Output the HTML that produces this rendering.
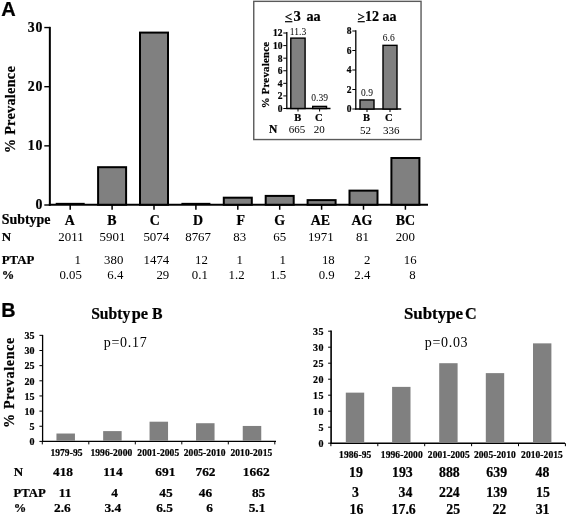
<!DOCTYPE html>
<html><head><meta charset="utf-8"><title>Figure</title>
<style>
html,body{margin:0;padding:0;background:#fff;}
svg{display:block;filter:blur(0.3px);}
text{fill:#000;}
.se{font-family:"Liberation Serif",serif;}
.sa{font-family:"Liberation Sans",sans-serif;}
.b{font-weight:bold;stroke:#000;stroke-width:0.22px;}
</style></head>
<body>
<svg width="567" height="515" viewBox="0 0 567 515">
<rect width="567" height="515" fill="#fff"/>
<text class="sa b" x="1.2" y="15.6" font-size="20" text-anchor="start">A</text>
<text class="sa b" x="1.2" y="316.5" font-size="19.8" text-anchor="start">B</text>
<line x1="49.85" y1="26.85" x2="49.85" y2="205.75" stroke="#000" stroke-width="2"/>
<line x1="48.85" y1="204.75" x2="428" y2="204.75" stroke="#000" stroke-width="2"/>
<line x1="44.3" y1="205.0" x2="49.85" y2="205.0" stroke="#000" stroke-width="1.4"/>
<text class="se b" x="43.4" y="209.2" font-size="13.8" text-anchor="end" letter-spacing="0.9">0</text>
<line x1="44.3" y1="145.85" x2="49.85" y2="145.85" stroke="#000" stroke-width="1.4"/>
<text class="se b" x="43.4" y="150.04999999999998" font-size="13.8" text-anchor="end" letter-spacing="0.9">10</text>
<line x1="44.3" y1="86.7" x2="49.85" y2="86.7" stroke="#000" stroke-width="1.4"/>
<text class="se b" x="43.4" y="90.9" font-size="13.8" text-anchor="end" letter-spacing="0.9">20</text>
<line x1="44.3" y1="27.55000000000001" x2="49.85" y2="27.55000000000001" stroke="#000" stroke-width="1.4"/>
<text class="se b" x="43.4" y="31.75000000000001" font-size="13.8" text-anchor="end" letter-spacing="0.9">30</text>
<text transform="translate(15.3,109.6) rotate(-90)" font-size="14.3" text-anchor="middle" letter-spacing="0.25" class="se b">% Prevalence</text>
<line x1="55.7" y1="203.55" x2="84.7" y2="203.55" stroke="#000" stroke-width="1.4"/>
<line x1="70.2" y1="204.75" x2="70.2" y2="209.75" stroke="#000" stroke-width="1.5"/>
<rect x="98.10" y="167.20" width="28.00" height="37.55" fill="#808080" stroke="#000" stroke-width="2"/>
<line x1="112.1" y1="204.75" x2="112.1" y2="209.75" stroke="#000" stroke-width="1.5"/>
<rect x="140.00" y="32.59" width="28.00" height="172.16" fill="#808080" stroke="#000" stroke-width="2"/>
<line x1="154.0" y1="204.75" x2="154.0" y2="209.75" stroke="#000" stroke-width="1.5"/>
<line x1="181.39999999999998" y1="203.55" x2="210.39999999999998" y2="203.55" stroke="#000" stroke-width="1.4"/>
<line x1="195.89999999999998" y1="204.75" x2="195.89999999999998" y2="209.75" stroke="#000" stroke-width="1.5"/>
<rect x="223.80" y="197.69" width="28.00" height="7.06" fill="#808080" stroke="#000" stroke-width="2"/>
<line x1="237.8" y1="204.75" x2="237.8" y2="209.75" stroke="#000" stroke-width="1.5"/>
<rect x="265.70" y="195.91" width="28.00" height="8.84" fill="#808080" stroke="#000" stroke-width="2"/>
<line x1="279.7" y1="204.75" x2="279.7" y2="209.75" stroke="#000" stroke-width="1.5"/>
<rect x="307.60" y="200.12" width="28.00" height="4.63" fill="#808080" stroke="#000" stroke-width="2"/>
<line x1="321.59999999999997" y1="204.75" x2="321.59999999999997" y2="209.75" stroke="#000" stroke-width="1.5"/>
<rect x="349.50" y="190.63" width="28.00" height="14.12" fill="#808080" stroke="#000" stroke-width="2"/>
<line x1="363.5" y1="204.75" x2="363.5" y2="209.75" stroke="#000" stroke-width="1.5"/>
<rect x="391.40" y="158.01" width="28.00" height="46.74" fill="#808080" stroke="#000" stroke-width="2"/>
<line x1="405.4" y1="204.75" x2="405.4" y2="209.75" stroke="#000" stroke-width="1.5"/>
<text class="se b" x="69.8" y="225.4" font-size="13.9" text-anchor="middle">A</text>
<text class="se b" x="112" y="225.4" font-size="13.9" text-anchor="middle">B</text>
<text class="se b" x="154.7" y="225.4" font-size="13.9" text-anchor="middle">C</text>
<text class="se b" x="198.1" y="225.4" font-size="13.9" text-anchor="middle">D</text>
<text class="se b" x="240.7" y="225.4" font-size="13.9" text-anchor="middle">F</text>
<text class="se b" x="279.6" y="225.4" font-size="13.9" text-anchor="middle">G</text>
<text class="se b" x="320.4" y="225.4" font-size="13.9" text-anchor="middle">AE</text>
<text class="se b" x="361.8" y="225.4" font-size="13.9" text-anchor="middle">AG</text>
<text class="se b" x="405.5" y="225.4" font-size="13.9" text-anchor="middle">BC</text>
<text class="se b" x="1.8" y="223.7" font-size="13.9" text-anchor="start">Subtype</text>
<text class="se b" x="1.8" y="241.4" font-size="13" text-anchor="start">N</text>
<text class="se b" x="1.8" y="263.6" font-size="12.8" text-anchor="start">PTAP</text>
<text class="se b" x="1.8" y="279.0" font-size="12.5" text-anchor="start">%</text>
<text class="se" x="83.6" y="241.2" font-size="12.9" text-anchor="end">2011</text>
<text class="se" x="125.4" y="241.2" font-size="12.9" text-anchor="end">5901</text>
<text class="se" x="169.2" y="241.2" font-size="12.9" text-anchor="end">5074</text>
<text class="se" x="211" y="241.2" font-size="12.9" text-anchor="end">8767</text>
<text class="se" x="246.2" y="241.2" font-size="12.9" text-anchor="end">83</text>
<text class="se" x="286.1" y="241.2" font-size="12.9" text-anchor="end">65</text>
<text class="se" x="333.7" y="241.2" font-size="12.9" text-anchor="end">1971</text>
<text class="se" x="369" y="241.2" font-size="12.9" text-anchor="end">81</text>
<text class="se" x="415" y="241.2" font-size="12.9" text-anchor="end">200</text>
<text class="se" x="80.8" y="263.6" font-size="12.8" text-anchor="end">1</text>
<text class="se" x="123.3" y="263.6" font-size="12.8" text-anchor="end">380</text>
<text class="se" x="169.2" y="263.6" font-size="12.8" text-anchor="end">1474</text>
<text class="se" x="207.8" y="263.6" font-size="12.8" text-anchor="end">12</text>
<text class="se" x="243" y="263.6" font-size="12.8" text-anchor="end">1</text>
<text class="se" x="285.8" y="263.6" font-size="12.8" text-anchor="end">1</text>
<text class="se" x="334.7" y="263.6" font-size="12.8" text-anchor="end">18</text>
<text class="se" x="370.3" y="263.6" font-size="12.8" text-anchor="end">2</text>
<text class="se" x="416.6" y="263.6" font-size="12.8" text-anchor="end">16</text>
<text class="se" x="81.8" y="279.0" font-size="12.8" text-anchor="end">0.05</text>
<text class="se" x="123.3" y="279.0" font-size="12.8" text-anchor="end">6.4</text>
<text class="se" x="169.2" y="279.0" font-size="12.8" text-anchor="end">29</text>
<text class="se" x="207.8" y="279.0" font-size="12.8" text-anchor="end">0.1</text>
<text class="se" x="244.6" y="279.0" font-size="12.8" text-anchor="end">1.2</text>
<text class="se" x="286.1" y="279.0" font-size="12.8" text-anchor="end">1.5</text>
<text class="se" x="334.7" y="279.0" font-size="12.8" text-anchor="end">0.9</text>
<text class="se" x="370.3" y="279.0" font-size="12.8" text-anchor="end">2.4</text>
<text class="se" x="415.6" y="279.0" font-size="12.8" text-anchor="end">8</text>
<rect x="253.75" y="1.35" width="167.3" height="138.2" fill="#fff" stroke="#5a5a5a" stroke-width="1.4"/>
<text class="se b" x="284.8" y="21.2" font-size="13" text-anchor="start">&lt;</text>
<line x1="285" y1="21.7" x2="292.4" y2="21.7" stroke="#000" stroke-width="1.2"/>
<text class="se b" x="293.6" y="20.6" font-size="14.6" text-anchor="start">3</text>
<text class="se b" x="306.5" y="20.6" font-size="14.2" text-anchor="start">aa</text>
<text class="se b" x="357.6" y="21.2" font-size="13" text-anchor="start">&gt;</text>
<line x1="357.7" y1="21.7" x2="364.8" y2="21.7" stroke="#000" stroke-width="1.2"/>
<text class="se b" x="365.1" y="20.6" font-size="14" text-anchor="start">12 aa</text>
<line x1="286.8" y1="32" x2="286.8" y2="109.1" stroke="#000" stroke-width="1.3"/>
<line x1="286.2" y1="108.5" x2="330.5" y2="108.5" stroke="#000" stroke-width="1.3"/>
<line x1="283.3" y1="108.5" x2="286.8" y2="108.5" stroke="#000" stroke-width="1"/>
<text class="se b" x="282.5" y="111.9" font-size="9.5" text-anchor="end">0</text>
<line x1="283.3" y1="95.92" x2="286.8" y2="95.92" stroke="#000" stroke-width="1"/>
<text class="se b" x="282.5" y="99.32000000000001" font-size="9.5" text-anchor="end">2</text>
<line x1="283.3" y1="83.34" x2="286.8" y2="83.34" stroke="#000" stroke-width="1"/>
<text class="se b" x="282.5" y="86.74000000000001" font-size="9.5" text-anchor="end">4</text>
<line x1="283.3" y1="70.75999999999999" x2="286.8" y2="70.75999999999999" stroke="#000" stroke-width="1"/>
<text class="se b" x="282.5" y="74.16" font-size="9.5" text-anchor="end">6</text>
<line x1="283.3" y1="58.18" x2="286.8" y2="58.18" stroke="#000" stroke-width="1"/>
<text class="se b" x="282.5" y="61.58" font-size="9.5" text-anchor="end">8</text>
<line x1="283.3" y1="45.6" x2="286.8" y2="45.6" stroke="#000" stroke-width="1"/>
<text class="se b" x="282.5" y="49.0" font-size="9.5" text-anchor="end">10</text>
<line x1="283.3" y1="33.019999999999996" x2="286.8" y2="33.019999999999996" stroke="#000" stroke-width="1"/>
<text class="se b" x="282.5" y="36.419999999999995" font-size="9.5" text-anchor="end">12</text>
<rect x="290.80" y="38.12" width="14.30" height="70.38" fill="#808080" stroke="#000" stroke-width="1.4"/>
<rect x="312.70" y="106.40" width="13.80" height="2.10" fill="#808080" stroke="#000" stroke-width="1.4"/>
<line x1="298" y1="108.5" x2="298" y2="111.5" stroke="#000" stroke-width="1"/>
<line x1="319.6" y1="108.5" x2="319.6" y2="111.5" stroke="#000" stroke-width="1"/>
<text class="se" x="298" y="35.2" font-size="9.5" text-anchor="middle">11.3</text>
<text class="se" x="319.6" y="100.7" font-size="9.5" text-anchor="middle">0.39</text>
<text class="se b" x="297.8" y="120.7" font-size="10.5" text-anchor="middle">B</text>
<text class="se b" x="318.8" y="120.7" font-size="10.5" text-anchor="middle">C</text>
<text class="se b" x="269" y="133.3" font-size="11.5" text-anchor="start">N</text>
<text class="se" x="296.9" y="133.3" font-size="11" text-anchor="middle">665</text>
<text class="se" x="319.3" y="133.3" font-size="11" text-anchor="middle">20</text>
<text transform="translate(269.0,75) rotate(-90)" font-size="10.8" letter-spacing="0.25" text-anchor="middle" class="se b">% Prevalence</text>
<line x1="355.8" y1="30.2" x2="355.8" y2="109.6" stroke="#000" stroke-width="1.3"/>
<line x1="355.2" y1="109.0" x2="401.2" y2="109.0" stroke="#000" stroke-width="1.3"/>
<line x1="352.3" y1="109.0" x2="355.8" y2="109.0" stroke="#000" stroke-width="1"/>
<text class="se b" x="351.5" y="112.2" font-size="9.5" text-anchor="end">0</text>
<line x1="352.3" y1="89.5" x2="355.8" y2="89.5" stroke="#000" stroke-width="1"/>
<text class="se b" x="351.5" y="92.7" font-size="9.5" text-anchor="end">2</text>
<line x1="352.3" y1="70.0" x2="355.8" y2="70.0" stroke="#000" stroke-width="1"/>
<text class="se b" x="351.5" y="73.2" font-size="9.5" text-anchor="end">4</text>
<line x1="352.3" y1="50.5" x2="355.8" y2="50.5" stroke="#000" stroke-width="1"/>
<text class="se b" x="351.5" y="53.7" font-size="9.5" text-anchor="end">6</text>
<line x1="352.3" y1="31.0" x2="355.8" y2="31.0" stroke="#000" stroke-width="1"/>
<text class="se b" x="351.5" y="34.2" font-size="9.5" text-anchor="end">8</text>
<rect x="360.00" y="99.95" width="14.00" height="9.05" fill="#808080" stroke="#000" stroke-width="1.4"/>
<rect x="383.00" y="45.35" width="14.00" height="63.65" fill="#808080" stroke="#000" stroke-width="1.4"/>
<line x1="367" y1="109.0" x2="367" y2="112.0" stroke="#000" stroke-width="1"/>
<line x1="390" y1="109.0" x2="390" y2="112.0" stroke="#000" stroke-width="1"/>
<text class="se" x="367" y="95.9" font-size="9.5" text-anchor="middle">0.9</text>
<text class="se" x="388.7" y="40.6" font-size="9.5" text-anchor="middle">6.6</text>
<text class="se b" x="366.4" y="121.4" font-size="10.5" text-anchor="middle">B</text>
<text class="se b" x="388.8" y="121.4" font-size="10.5" text-anchor="middle">C</text>
<text class="se" x="365.5" y="133.8" font-size="11" text-anchor="middle">52</text>
<text class="se" x="391.2" y="133.8" font-size="11" text-anchor="middle">336</text>
<line x1="42.6" y1="334.9" x2="42.6" y2="442.0" stroke="#000" stroke-width="1.3"/>
<line x1="42.0" y1="441.4" x2="276" y2="441.4" stroke="#000" stroke-width="1.3"/>
<line x1="39.4" y1="441.4" x2="42.6" y2="441.4" stroke="#000" stroke-width="1"/>
<text class="se b" x="34.7" y="445.2" font-size="10" text-anchor="end" letter-spacing="0.15">0</text>
<line x1="39.4" y1="426.25" x2="42.6" y2="426.25" stroke="#000" stroke-width="1"/>
<text class="se b" x="34.7" y="430.05" font-size="10" text-anchor="end" letter-spacing="0.15">5</text>
<line x1="39.4" y1="411.09999999999997" x2="42.6" y2="411.09999999999997" stroke="#000" stroke-width="1"/>
<text class="se b" x="34.7" y="414.9" font-size="10" text-anchor="end" letter-spacing="0.15">10</text>
<line x1="39.4" y1="395.95" x2="42.6" y2="395.95" stroke="#000" stroke-width="1"/>
<text class="se b" x="34.7" y="399.75" font-size="10" text-anchor="end" letter-spacing="0.15">15</text>
<line x1="39.4" y1="380.79999999999995" x2="42.6" y2="380.79999999999995" stroke="#000" stroke-width="1"/>
<text class="se b" x="34.7" y="384.59999999999997" font-size="10" text-anchor="end" letter-spacing="0.15">20</text>
<line x1="39.4" y1="365.65" x2="42.6" y2="365.65" stroke="#000" stroke-width="1"/>
<text class="se b" x="34.7" y="369.45" font-size="10" text-anchor="end" letter-spacing="0.15">25</text>
<line x1="39.4" y1="350.5" x2="42.6" y2="350.5" stroke="#000" stroke-width="1"/>
<text class="se b" x="34.7" y="354.3" font-size="10" text-anchor="end" letter-spacing="0.15">30</text>
<line x1="39.4" y1="335.34999999999997" x2="42.6" y2="335.34999999999997" stroke="#000" stroke-width="1"/>
<text class="se b" x="34.7" y="339.15" font-size="10" text-anchor="end" letter-spacing="0.15">35</text>
<text transform="translate(13.9,382.5) rotate(-90)" font-size="14" text-anchor="middle" letter-spacing="0.7" class="se b">% Prevalence</text>
<text class="se b" x="91.2" y="318.9" font-size="16" text-anchor="start" textLength="39.0" lengthAdjust="spacingAndGlyphs">Subty</text>
<text class="se b" x="131.8" y="318.9" font-size="16" text-anchor="start" textLength="16.3" lengthAdjust="spacingAndGlyphs">pe</text>
<text class="se b" x="152.1" y="318.9" font-size="15.8" text-anchor="start">B</text>
<text class="se" x="103.8" y="346.7" font-size="14" text-anchor="start" letter-spacing="0.7">p=0.17</text>
<rect x="56.45" y="433.52" width="18.50" height="7.28" fill="#808080"/>
<rect x="103.15" y="431.10" width="18.50" height="9.70" fill="#808080"/>
<rect x="149.55" y="421.70" width="18.50" height="19.09" fill="#808080"/>
<rect x="196.05" y="423.22" width="18.50" height="17.58" fill="#808080"/>
<rect x="242.75" y="425.95" width="18.50" height="14.85" fill="#808080"/>
<line x1="42.3" y1="441.4" x2="42.3" y2="444.4" stroke="#000" stroke-width="1"/>
<line x1="88.8" y1="441.4" x2="88.8" y2="444.4" stroke="#000" stroke-width="1"/>
<line x1="135.3" y1="441.4" x2="135.3" y2="444.4" stroke="#000" stroke-width="1"/>
<line x1="181.8" y1="441.4" x2="181.8" y2="444.4" stroke="#000" stroke-width="1"/>
<line x1="228.3" y1="441.4" x2="228.3" y2="444.4" stroke="#000" stroke-width="1"/>
<line x1="274.8" y1="441.4" x2="274.8" y2="444.4" stroke="#000" stroke-width="1"/>
<text class="se b" x="66.5" y="455.6" font-size="9.5" text-anchor="middle" letter-spacing="0.08">1979-95</text>
<text class="se b" x="111.4" y="455.6" font-size="9.5" text-anchor="middle" letter-spacing="0.08">1996-2000</text>
<text class="se b" x="158.3" y="455.6" font-size="9.5" text-anchor="middle" letter-spacing="0.08">2001-2005</text>
<text class="se b" x="204.7" y="455.6" font-size="9.5" text-anchor="middle" letter-spacing="0.08">2005-2010</text>
<text class="se b" x="251.4" y="455.6" font-size="9.5" text-anchor="middle" letter-spacing="0.08">2010-2015</text>
<text class="se b" x="13.8" y="475.6" font-size="13" text-anchor="start">N</text>
<text class="se b" x="13.6" y="496.5" font-size="12.7" text-anchor="start">PTAP</text>
<text class="se b" x="13.8" y="512" font-size="12.5" text-anchor="start">%</text>
<text class="se b" x="63" y="475.6" font-size="13.4" text-anchor="middle">418</text>
<text class="se b" x="113" y="475.6" font-size="13.4" text-anchor="middle">114</text>
<text class="se b" x="165.3" y="475.6" font-size="13.4" text-anchor="middle">691</text>
<text class="se b" x="205.5" y="475.6" font-size="13.4" text-anchor="middle">762</text>
<text class="se b" x="256.2" y="475.6" font-size="13.4" text-anchor="middle">1662</text>
<text class="se b" x="65.1" y="496.5" font-size="13.4" text-anchor="middle">11</text>
<text class="se b" x="114.6" y="496.5" font-size="13.4" text-anchor="middle">4</text>
<text class="se b" x="166" y="496.5" font-size="13.4" text-anchor="middle">45</text>
<text class="se b" x="205.4" y="496.5" font-size="13.4" text-anchor="middle">46</text>
<text class="se b" x="258.6" y="496.5" font-size="13.4" text-anchor="middle">85</text>
<text class="se b" x="62.4" y="512" font-size="13.4" text-anchor="middle">2.6</text>
<text class="se b" x="112.8" y="512" font-size="13.4" text-anchor="middle">3.4</text>
<text class="se b" x="164.5" y="512" font-size="13.4" text-anchor="middle">6.5</text>
<text class="se b" x="209.5" y="512" font-size="13.4" text-anchor="middle">6</text>
<text class="se b" x="257" y="512" font-size="13.4" text-anchor="middle">5.1</text>
<line x1="331.1" y1="330.6" x2="331.1" y2="443.8" stroke="#000" stroke-width="1.6"/>
<line x1="330.5" y1="443.2" x2="565" y2="443.2" stroke="#000" stroke-width="1.5"/>
<line x1="328.1" y1="443.2" x2="331.1" y2="443.2" stroke="#000" stroke-width="1"/>
<text class="se b" x="323.9" y="446.5" font-size="10" text-anchor="end" letter-spacing="0.4">0</text>
<line x1="328.1" y1="427.2" x2="331.1" y2="427.2" stroke="#000" stroke-width="1"/>
<text class="se b" x="323.9" y="430.5" font-size="10" text-anchor="end" letter-spacing="0.4">5</text>
<line x1="328.1" y1="411.2" x2="331.1" y2="411.2" stroke="#000" stroke-width="1"/>
<text class="se b" x="323.9" y="414.5" font-size="10" text-anchor="end" letter-spacing="0.4">10</text>
<line x1="328.1" y1="395.2" x2="331.1" y2="395.2" stroke="#000" stroke-width="1"/>
<text class="se b" x="323.9" y="398.5" font-size="10" text-anchor="end" letter-spacing="0.4">15</text>
<line x1="328.1" y1="379.2" x2="331.1" y2="379.2" stroke="#000" stroke-width="1"/>
<text class="se b" x="323.9" y="382.5" font-size="10" text-anchor="end" letter-spacing="0.4">20</text>
<line x1="328.1" y1="363.2" x2="331.1" y2="363.2" stroke="#000" stroke-width="1"/>
<text class="se b" x="323.9" y="366.5" font-size="10" text-anchor="end" letter-spacing="0.4">25</text>
<line x1="328.1" y1="347.2" x2="331.1" y2="347.2" stroke="#000" stroke-width="1"/>
<text class="se b" x="323.9" y="350.5" font-size="10" text-anchor="end" letter-spacing="0.4">30</text>
<line x1="328.1" y1="331.2" x2="331.1" y2="331.2" stroke="#000" stroke-width="1"/>
<text class="se b" x="323.9" y="334.5" font-size="10" text-anchor="end" letter-spacing="0.4">35</text>
<text class="se b" x="403.9" y="318.9" font-size="16" text-anchor="start" textLength="59.2" lengthAdjust="spacingAndGlyphs">Subtype</text>
<text class="se b" x="465.0" y="318.9" font-size="16.2" text-anchor="start">C</text>
<text class="se" x="424.7" y="346.7" font-size="14" text-anchor="start" letter-spacing="0.7">p=0.03</text>
<rect x="345.80" y="392.64" width="18.40" height="49.96" fill="#808080"/>
<rect x="392.10" y="386.88" width="18.40" height="55.72" fill="#808080"/>
<rect x="439.20" y="363.20" width="18.40" height="79.40" fill="#808080"/>
<rect x="485.80" y="373.12" width="18.40" height="69.48" fill="#808080"/>
<rect x="533.00" y="343.36" width="18.40" height="99.24" fill="#808080"/>
<line x1="330.9" y1="443.2" x2="330.9" y2="446.2" stroke="#000" stroke-width="1"/>
<line x1="377.79999999999995" y1="443.2" x2="377.79999999999995" y2="446.2" stroke="#000" stroke-width="1"/>
<line x1="424.7" y1="443.2" x2="424.7" y2="446.2" stroke="#000" stroke-width="1"/>
<line x1="471.59999999999997" y1="443.2" x2="471.59999999999997" y2="446.2" stroke="#000" stroke-width="1"/>
<line x1="518.5" y1="443.2" x2="518.5" y2="446.2" stroke="#000" stroke-width="1"/>
<line x1="565.4" y1="443.2" x2="565.4" y2="446.2" stroke="#000" stroke-width="1"/>
<text class="se b" x="355.2" y="458" font-size="9.5" text-anchor="middle" letter-spacing="0.08">1986-95</text>
<text class="se b" x="401.8" y="458" font-size="9.5" text-anchor="middle" letter-spacing="0.08">1996-2000</text>
<text class="se b" x="448.8" y="458" font-size="9.5" text-anchor="middle" letter-spacing="0.08">2001-2005</text>
<text class="se b" x="494.9" y="458" font-size="9.5" text-anchor="middle" letter-spacing="0.08">2005-2010</text>
<text class="se b" x="542" y="458" font-size="9.5" text-anchor="middle" letter-spacing="0.08">2010-2015</text>
<text class="se b" x="355.9" y="477" font-size="13.8" text-anchor="middle">19</text>
<text class="se b" x="402.4" y="477" font-size="13.8" text-anchor="middle">193</text>
<text class="se b" x="449.4" y="477" font-size="13.8" text-anchor="middle">888</text>
<text class="se b" x="496.7" y="477" font-size="13.8" text-anchor="middle">639</text>
<text class="se b" x="542.4" y="477" font-size="13.8" text-anchor="middle">48</text>
<text class="se b" x="355.5" y="497" font-size="13.8" text-anchor="middle">3</text>
<text class="se b" x="405.5" y="497" font-size="13.8" text-anchor="middle">34</text>
<text class="se b" x="449.4" y="497" font-size="13.8" text-anchor="middle">224</text>
<text class="se b" x="496.7" y="497" font-size="13.8" text-anchor="middle">139</text>
<text class="se b" x="543" y="497" font-size="13.8" text-anchor="middle">15</text>
<text class="se b" x="356.5" y="513.6" font-size="13.8" text-anchor="middle">16</text>
<text class="se b" x="403.7" y="513.6" font-size="13.8" text-anchor="middle">17.6</text>
<text class="se b" x="453.2" y="513.6" font-size="13.8" text-anchor="middle">25</text>
<text class="se b" x="499.3" y="513.6" font-size="13.8" text-anchor="middle">22</text>
<text class="se b" x="542.6" y="513.6" font-size="13.8" text-anchor="middle">31</text>
</svg>
</body></html>
